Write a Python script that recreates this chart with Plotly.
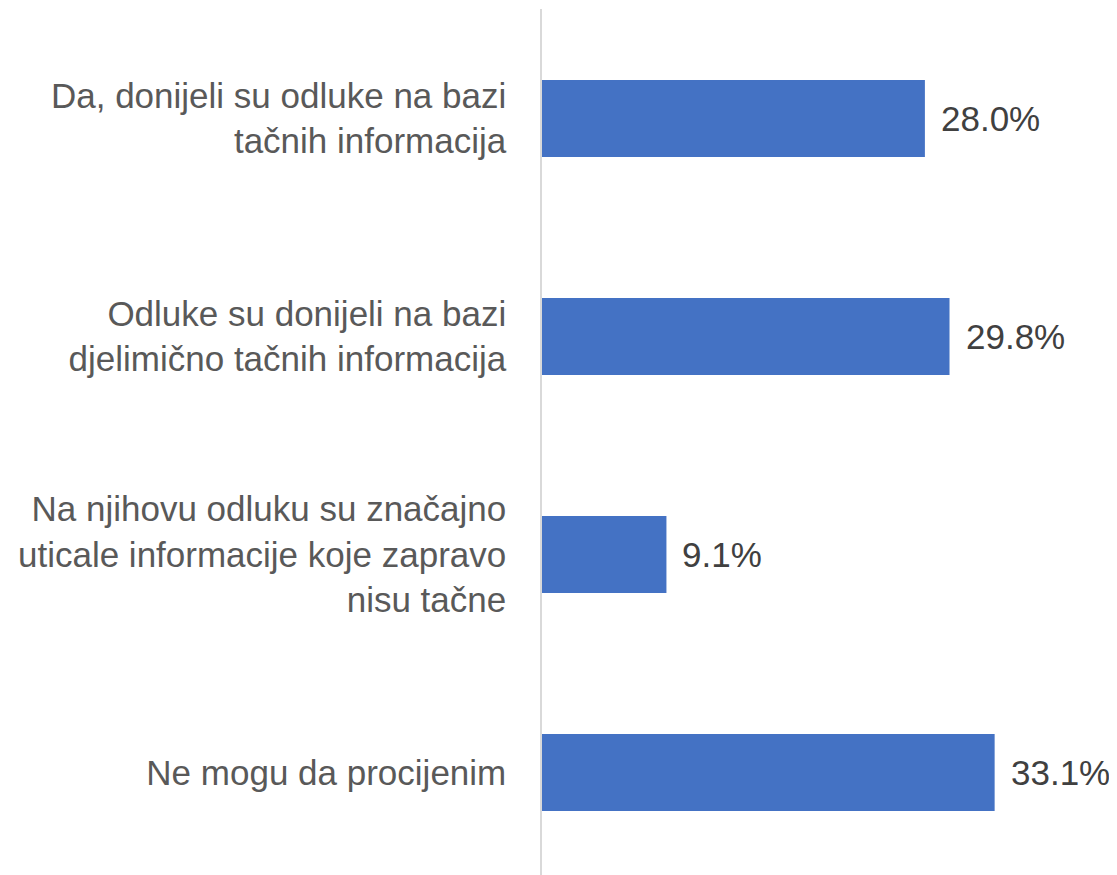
import plotly.graph_objects as go

categories = [
    "Da, donijeli su odluke na bazi<br>tačnih informacija",
    "Odluke su donijeli na bazi<br>djelimično tačnih informacija",
    "Na njihovu odluku su značajno<br>uticale informacije koje zapravo<br>nisu tačne",
    "Ne mogu da procijenim",
]
values = [28.0, 29.8, 9.1, 33.1]
value_labels = ["28.0%", "29.8%", "9.1%", "33.1%"]

fig = go.Figure()
fig.add_trace(go.Bar(
    x=values,
    y=categories,
    orientation="h",
    marker=dict(color="#4472C4", line=dict(width=0)),
    hoverinfo="skip",
))

for c, v, t in zip(categories, values, value_labels):
    fig.add_annotation(
        x=v, y=c, text=t, showarrow=False, xanchor="left", yanchor="middle",
        xshift=14, font=dict(family="Liberation Sans, Arial, sans-serif", size=35, color="#404040"),
    )

fig.update_layout(
    width=1109, height=867,
    margin=dict(l=534, r=28, t=1, b=0),
    plot_bgcolor="white", paper_bgcolor="white",
    bargap=0.647,
    showlegend=False,
    font=dict(family="Liberation Sans, Arial, sans-serif", size=35, color="#595959"),
)
fig.update_xaxes(range=[0, 40], visible=False, showgrid=False, zeroline=False)
fig.update_yaxes(
    type="category",
    range=[3.470, -0.502],
    showline=True, linecolor="#d9d9d9", linewidth=1.5,
    showgrid=False, zeroline=False, ticks="",
    ticklabelstandoff=27,
    tickfont=dict(family="Liberation Sans, Arial, sans-serif", size=35, color="#595959"),
)

fig.write_html("out.html")
